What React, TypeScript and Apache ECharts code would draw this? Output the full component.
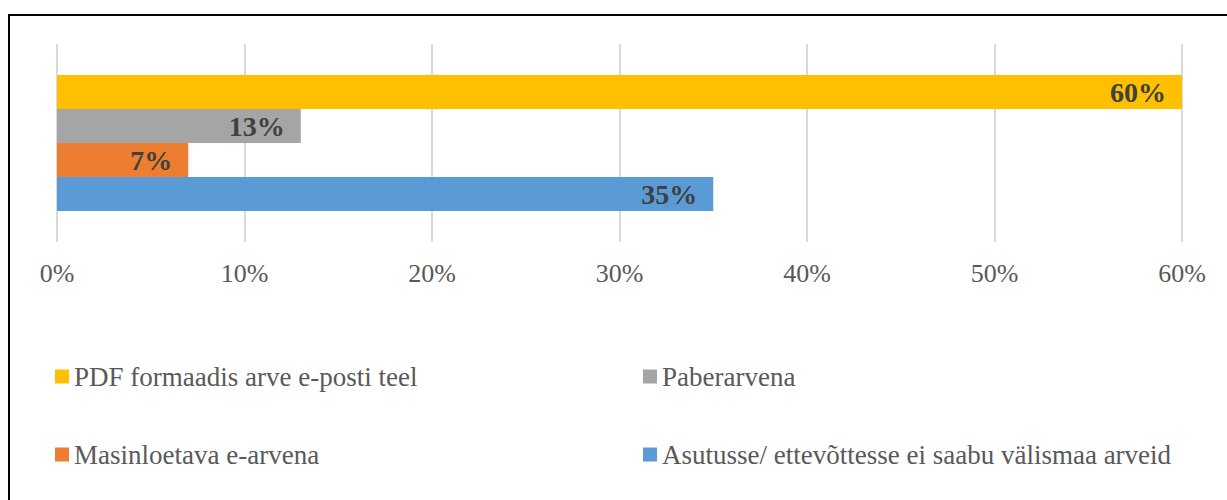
import React, { useEffect, useRef } from "react";
import * as echarts from "echarts";

const categories = ["Arved"];
const seriesNames = [
  "PDF formaadis arve e-posti teel",
  "Paberarvena",
  "Masinloetava e-arvena",
  "Asutusse/ ettevõttesse ei saabu välismaa arveid",
];
const seriesValues = [60, 13, 7, 35];
const seriesColors = ["#FFC000", "#A5A5A5", "#ED7D31", "#5B9BD5"];
const legendLeft = [seriesNames[0], seriesNames[2]];
const legendRight = [seriesNames[1], seriesNames[3]];

const FONT = "Liberation Serif";

export default function App() {
  const ref = useRef<HTMLDivElement>(null);
  useEffect(() => {
    if (!ref.current) return;
    const chart = echarts.init(ref.current, undefined, { renderer: "svg" });
    const legendCommon = {
      orient: "vertical",
      icon: "rect",
      itemWidth: 14,
      itemHeight: 14,
      itemGap: 51,
      textStyle: { fontFamily: FONT, fontSize: 27, lineHeight: 27, color: "#595959" },
      selectedMode: false,
    };
    chart.setOption({
      animation: false,
      backgroundColor: "#ffffff",
      graphic: [
        {
          type: "rect",
          shape: { x: 9, y: 15, width: 1260, height: 520 },
          style: { fill: "none", stroke: "#000000", lineWidth: 2 },
          silent: true,
        },
      ],
      grid: { left: 57, right: 45, top: 44, height: 198, containLabel: false },
      legend: [
        { ...legendCommon, left: 50, top: 358, data: legendLeft },
        { ...legendCommon, left: 638, top: 358, data: legendRight },
      ],
      xAxis: {
        type: "value",
        min: 0,
        max: 60,
        interval: 10,
        axisLine: { show: false },
        axisTick: { show: false },
        axisLabel: {
          formatter: "{value}%",
          fontFamily: FONT,
          fontSize: 26,
          color: "#595959",
          margin: 18,
        },
        splitLine: { show: true, lineStyle: { color: "#D9D9D9", width: 2 } },
      },
      yAxis: {
        type: "category",
        data: categories,
        inverse: true,
        axisLine: { show: false },
        axisTick: { show: false },
        axisLabel: { show: false },
      },
      series: seriesNames.map((name, i) => ({
        name,
        type: "bar",
        data: [seriesValues[i]],
        barWidth: 34,
        barGap: "0%",
        itemStyle: { color: seriesColors[i] },
        label: {
          show: true,
          position: "insideRight",
          distance: 16,
          formatter: "{c}%",
          fontFamily: FONT,
          fontSize: 28,
          fontWeight: "bold",
          color: "#404040",
        },
      })),
    });
    return () => chart.dispose();
  }, []);
  return (
    <div
      ref={ref}
      style={{ position: "fixed", left: 0, top: 0, width: 1227, height: 500 }}
    />
  );
}
